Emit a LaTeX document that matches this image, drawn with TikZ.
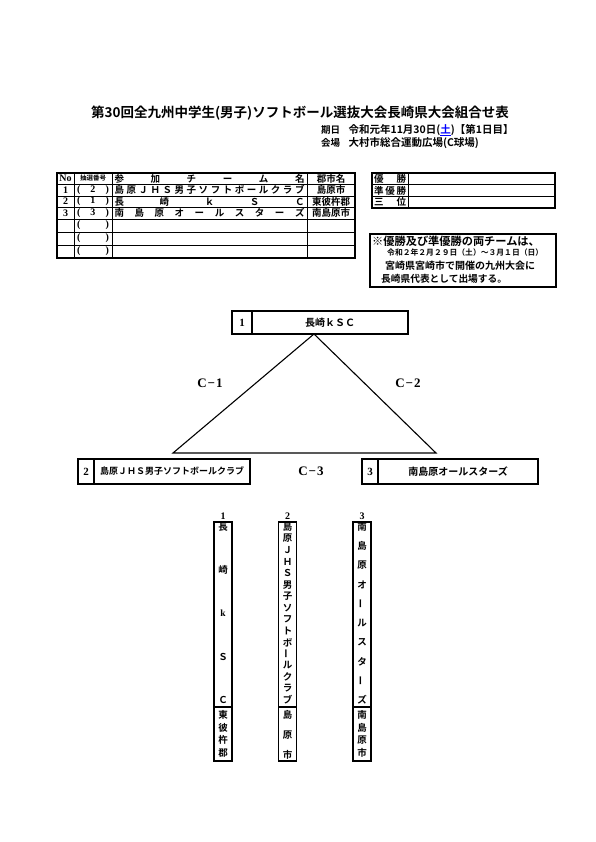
\documentclass[tikz,border=0pt]{standalone}
\usepackage{fontspec}
\setmainfont{Noto Sans CJK JP}[BoldFont={Noto Sans CJK JP Bold}]
\newfontfamily\latfont{Liberation Serif}
\usetikzlibrary{positioning}

\begin{document}
\begin{tikzpicture}[
    x=1pt, y=-1pt,
    node distance = 4pt and 8pt,
    every node/.style = {inner sep=0pt, font=\bfseries},
    cell/.style   = {draw=black, line width=1.3pt, outer sep=0pt,
                     minimum height=23pt, align=center},
    numcell/.style  = {cell, font=\latfont\bfseries\fontsize{11}{11}\selectfont},
    namecell/.style = {cell, font=\bfseries\fontsize{9}{9}\selectfont},
    vbox/.style   = {draw=black, line width=1.3pt, outer sep=0pt, minimum width=18pt},
    vch/.style    = {font=\bfseries\fontsize{9.5}{9.5}\selectfont},
    tab/.style    = {font=\bfseries\fontsize{9.5}{9.5}\selectfont},
    head/.style   = {font=\bfseries\fontsize{10.5}{10.5}\selectfont},
    num/.style    = {font=\latfont\bfseries\fontsize{10}{10}\selectfont},
    game/.style   = {font=\latfont\bfseries\fontsize{13}{13}\selectfont},
    rule/.style   = {line width=0.8pt},
    border/.style = {line width=1.3pt}
]
\useasboundingbox (0,0) rectangle (595,842);

% Title and date
\node[font=\bfseries\fontsize{13.5}{14}\selectfont] (title) at (300,113)
    {第30回全九州中学生(男子)ソフトボール選抜大会長崎県大会組合せ表};
\node[tab, anchor=west] (dayLbl) at (321,130) {期日};
\node[head, right=8pt of dayLbl] (day)
    {令和元年11月30日(\textcolor{blue}{\underline{土}})【第1日目】};
\node[tab, anchor=west] (siteLbl) at (321,143) {会場};
\node[head, right=8pt of siteLbl] (site) {大村市総合運動広場(C球場)};

% Entry table
\draw[border] (57,173) rectangle (355,258);
\foreach \y in {184,196,207,219,232,245} \draw[rule] (57,\y) -- (355,\y);
\foreach \x in {74,112,307} \draw[rule] (\x,173) -- (\x,258);
\node[num] (hNo) at (65.5,178.5) {No};
\node[font=\bfseries\fontsize{6.5}{7}\selectfont] (hLot) at (93,178.5) {抽選番号};
\node[tab] (hTeam) at (209.5,178.5)
    {\makebox[190pt][s]{参\hfill 加\hfill チ\hfill ー\hfill ム\hfill 名}};
\node[tab] (hCity) at (331,178.5) {郡市名};
\foreach \n/\lot/\team/\city [count=\i] in {
    1/2/{島\hfill 原\hfill Ｊ\hfill Ｈ\hfill Ｓ\hfill 男\hfill 子\hfill ソ\hfill フ\hfill ト\hfill ボ\hfill ー\hfill ル\hfill ク\hfill ラ\hfill ブ}/島原市,
    2/1/{長\hfill 崎\hfill ｋ\hfill Ｓ\hfill Ｃ}/東彼杵郡,
    3/3/{南\hfill 島\hfill 原\hfill オ\hfill ー\hfill ル\hfill ス\hfill タ\hfill ー\hfill ズ}/南島原市} {
  \node[num] (no\i) at (65.5,{178.5+\i*11.5}) {\n};
  \node[num] (lot\i) at (93,{178.5+\i*11.5}) {\makebox[32pt][s]{(\hfill\lot\hfill)}};
  \node[tab] (team\i) at (209.5,{178.5+\i*11.5}) {\makebox[190pt][s]{\team}};
  \node[tab] (city\i) at (331,{178.5+\i*11.5}) {\city};
}
\foreach \y [count=\i] in {225.5,238.5,251.5}
  \node[num] (blank\i) at (93,\y) {\makebox[32pt][s]{(\hfill)}};

% Result table
\draw[border] (372,173) rectangle (555,208);
\draw[rule] (372,184.7) -- (555,184.7);
\draw[rule] (372,196.3) -- (555,196.3);
\draw[rule] (408,173) -- (408,208);
\node[tab] (first)  at (390,179)   {\makebox[32pt][s]{優\hfill 勝}};
\node[tab] (second) at (390,190.5) {\makebox[32pt][s]{準\hfill 優\hfill 勝}};
\node[tab] (third)  at (390,202)   {\makebox[32pt][s]{三\hfill 位}};

% Note
\draw[border] (370,234) rectangle (556,287);
\node[anchor=west, font=\bfseries\fontsize{11.2}{12}\selectfont] (note1) at (372,241)
    {※優勝及び準優勝の両チームは、};
\node[anchor=west, font=\bfseries\fontsize{7.8}{8}\selectfont] (note2) at (387,253)
    {令和２年２月２９日（土）～３月１日（日）};
\node[anchor=west, font=\bfseries\fontsize{10}{10}\selectfont] (note3) at (385,266)
    {宮崎県宮崎市で開催の九州大会に};
\node[anchor=west, font=\bfseries\fontsize{9.7}{10}\selectfont] (note4) at (381,279)
    {長崎県代表として出場する。};

% Bracket boxes
\node[numcell, minimum width=20pt] (top) at (242,322.5) {1};
\node[namecell, minimum width=156pt, right=0pt of top, font=\bfseries\fontsize{10}{10}\selectfont] (topName) {長崎ｋＳＣ};
\node[numcell, minimum width=16pt, minimum height=25pt] (left) at (86,471.5) {2};
\node[namecell, minimum width=156pt, minimum height=25pt, right=0pt of left] (leftName)
    {島原ＪＨＳ男子ソフトボールクラブ};
\node[numcell, minimum width=16pt, minimum height=25pt] (right) at (370,471.5) {3};
\node[namecell, minimum width=160pt, minimum height=25pt, right=0pt of right,
      font=\bfseries\fontsize{10}{10}\selectfont] (rightName) {南島原オールスターズ};

% Triangle
\coordinate (apex) at (314,334);
\coordinate (baseL) at (173,453);
\coordinate (baseR) at (436,453);
\draw[line width=1.1pt] (apex) -- (baseL) -- (baseR) -- cycle;
\node[game] (c1) at (210,383) {C\kern1pt−\kern1pt1};
\node[game] (c2) at (408,383) {C\kern1pt−\kern1pt2};
\node[game] (c3) at (311,471.5) {C\kern1pt−\kern1pt3};

% Vertical name cards
\node[vbox, minimum height=185pt] (card1) at (223,614.5) {};
\node[vbox, minimum height=54pt, below=0pt of card1] (home1) {};
\node[vbox, minimum height=185pt] (card2) at (287.5,614.5) {};
\node[vbox, minimum height=54pt, below=0pt of card2] (home2) {};
\node[vbox, minimum height=185pt] (card3) at (362,614.5) {};
\node[vbox, minimum height=54pt, below=0pt of card3] (home3) {};
\node[num, above=2pt of card1] (lab1) {1};
\node[num, above=2pt of card2] (lab2) {2};
\node[num, above=2pt of card3] (lab3) {3};

\foreach \ch [count=\i] in {長,崎,{\latfont k},Ｓ,Ｃ}
  \node[vch] (a\i) at (223,{483.75+\i*43.25}) {\ch};
\foreach \ch [count=\i] in {東,彼,杵,郡}
  \node[vch] (ah\i) at (223,{702.3+\i*12.67}) {\ch};
\foreach \ch [count=\i] in {島,原,Ｊ,Ｈ,Ｓ,男,子,ソ,フ,ト,ボ,{\rotatebox{90}{ー}},ル,ク,ラ,ブ}
  \node[vch] (b\i) at (287.5,{515.5+\i*11.53}) {\ch};
\foreach \ch [count=\i] in {島,原,市}
  \node[vch] (bh\i) at (287.5,{695+\i*20}) {\ch};
\foreach \ch [count=\i] in {南,島,原,オ,{\rotatebox{90}{ー}},ル,ス,タ,{\rotatebox{90}{ー}},ズ}
  \node[vch] (c\i) at (362,{507.8+\i*19.22}) {\ch};
\foreach \ch [count=\i] in {南,島,原,市}
  \node[vch] (ch\i) at (362,{702.3+\i*12.67}) {\ch};
\end{tikzpicture}
\end{document}
